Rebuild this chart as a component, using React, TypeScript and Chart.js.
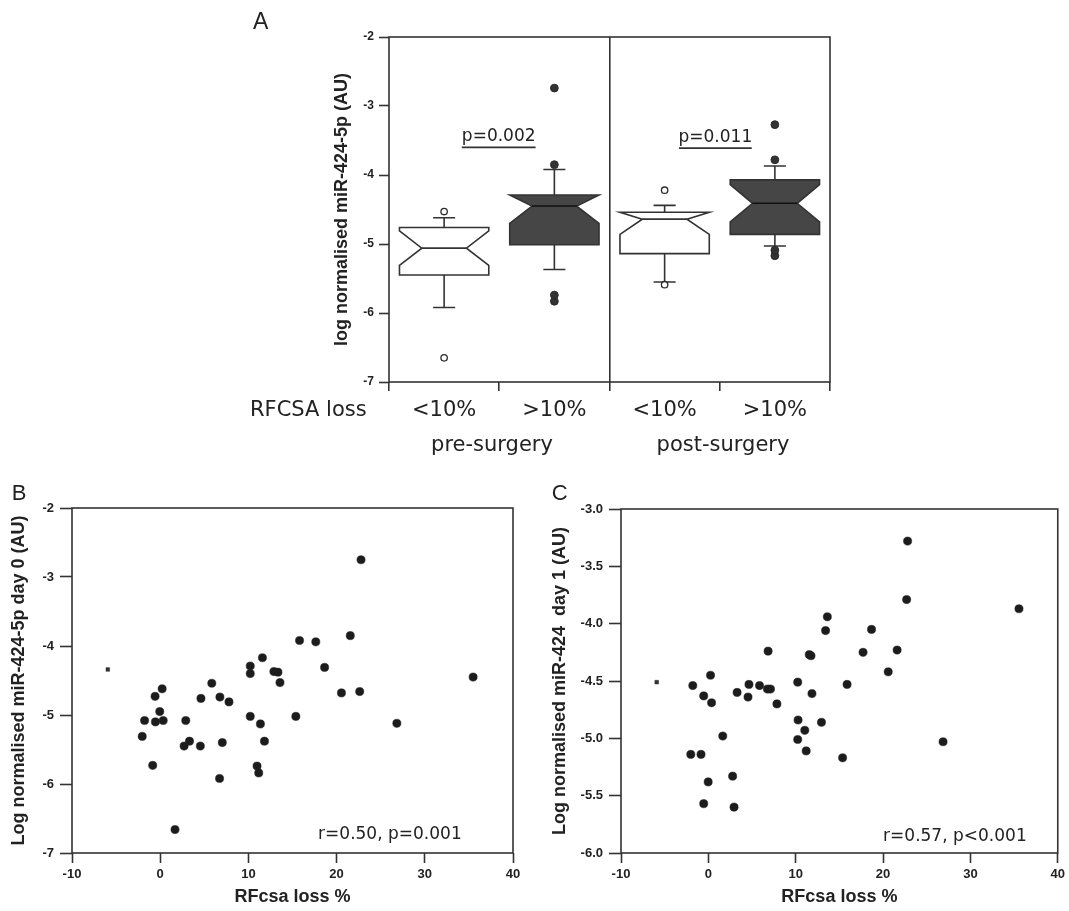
import React, { useEffect, useRef } from 'react';
import { Chart, registerables } from 'chart.js';

Chart.register(...registerables);

// ---------- Panel A data ----------
const groupLabels = ['<10%', '>10%', '<10%', '>10%'];
const boxQ1 = [-5.45, -5.01, -5.14, -4.86];
const boxQ3 = [-4.76, -4.29, -4.54, -4.07];
const boxMedian = [-5.06, -4.45, -4.64, -4.41];
const notchLow = [-5.31, -4.70, -4.86, -4.68];
const notchHigh = [-4.81, -4.20, -4.42, -4.14];
const whiskerLow = [-5.92, -5.37, -5.55, -5.03];
const whiskerHigh = [-4.62, -3.92, -4.44, -3.87];
const outliersPreLow = [-4.53, -6.65];
const outliersPreHigh = [-2.74, -3.85, -5.74, -5.83];
const outliersPostLow = [-4.22, -5.59];
const outliersPostHigh = [-3.27, -3.78, -5.09, -5.17];
const pValueLabels = ['p=0.002', 'p=0.011'];
const pLineY = [-3.6, -3.61];
const pLineFrom = [0.16, 2.13];
const pLineTo = [0.83, 2.79];

// ---------- Panel B data ----------
const rfB = [22.77, 21.55, 15.8, 17.64, 11.59, 10.21, 18.64, 12.89, 13.35, 10.21, 35.48, 13.58, 5.85, 0.22, 22.62, 20.55, -0.58, 6.77, 4.62, 7.8, -0.05, 10.21, 15.38, -1.77, 0.34, 2.9, -0.54, 26.83, 11.36, -2.04, 11.82, 3.32, 7.04, 2.71, 4.55, -0.85, 10.98, 11.17, 6.73, 1.68];
const mirB = [-2.75, -3.85, -3.92, -3.94, -4.17, -4.29, -4.31, -4.37, -4.38, -4.4, -4.45, -4.53, -4.54, -4.62, -4.66, -4.68, -4.73, -4.74, -4.76, -4.81, -4.95, -5.02, -5.02, -5.08, -5.08, -5.08, -5.1, -5.12, -5.13, -5.31, -5.38, -5.38, -5.4, -5.45, -5.45, -5.73, -5.74, -5.84, -5.92, -6.66];
const squareB_x = [-5.94];
const squareB_y = [-4.34];

// ---------- Panel C data ----------
const rfC = [22.81, 22.7, 35.56, 13.62, 13.42, 18.68, 6.84, 17.71, 21.61, 11.55, 11.75, 20.59, 0.25, -1.78, 4.65, 5.86, 10.23, 15.88, 3.29, 6.76, 7.11, -0.53, 4.54, 11.86, 0.37, 7.85, 10.27, 12.95, 11.04, 1.65, 10.23, 26.87, 11.2, -2.01, -0.84, 15.37, 2.78, -0.02, -0.53, 2.94];
const mirC = [-3.28, -3.79, -3.87, -3.94, -4.06, -4.05, -4.24, -4.25, -4.23, -4.27, -4.28, -4.42, -4.45, -4.54, -4.53, -4.54, -4.51, -4.53, -4.6, -4.57, -4.57, -4.63, -4.64, -4.61, -4.69, -4.7, -4.84, -4.86, -4.93, -4.98, -5.01, -5.03, -5.11, -5.14, -5.14, -5.17, -5.33, -5.38, -5.57, -5.6];
const squareC_x = [-5.91];
const squareC_y = [-4.51];

// ---------- styles ----------
const SANS = '"DejaVu Sans", sans-serif';
const ARIAL = '"Liberation Sans", Arial, sans-serif';
const INK = '#222';
const LINE = '#333';
const DARK = '#464646';
const LW = 1.6;

const boxPlugin = {
  id: 'notchedBoxes',
  beforeDatasetsDraw(chart: any) {
    const { ctx } = chart;
    const xs = chart.scales.x;
    const ys = chart.scales.y;
    const step = xs.getPixelForValue(1) - xs.getPixelForValue(0);
    const half = (step * 0.81) / 2;
    const inset = step * 0.81 * 0.25;
    const cap = step * 0.1;
    ctx.save();
    ctx.lineWidth = LW;
    ctx.strokeStyle = LINE;
    for (let i = 0; i < boxQ1.length; i++) {
      const cx = xs.getPixelForValue(i);
      const L = cx - half;
      const R = cx + half;
      const q1 = ys.getPixelForValue(boxQ1[i]);
      const q3 = ys.getPixelForValue(boxQ3[i]);
      const md = ys.getPixelForValue(boxMedian[i]);
      const nLo = Math.min(ys.getPixelForValue(notchLow[i]), q1);
      const nHi = Math.max(ys.getPixelForValue(notchHigh[i]), q3);
      const wLo = ys.getPixelForValue(whiskerLow[i]);
      const wHi = ys.getPixelForValue(whiskerHigh[i]);
      ctx.beginPath();
      ctx.moveTo(cx, q3); ctx.lineTo(cx, wHi);
      ctx.moveTo(cx - cap, wHi); ctx.lineTo(cx + cap, wHi);
      ctx.moveTo(cx, q1); ctx.lineTo(cx, wLo);
      ctx.moveTo(cx - cap, wLo); ctx.lineTo(cx + cap, wLo);
      ctx.stroke();
      ctx.beginPath();
      ctx.moveTo(L, q3); ctx.lineTo(R, q3); ctx.lineTo(R, nHi);
      ctx.lineTo(R - inset, md); ctx.lineTo(R, nLo); ctx.lineTo(R, q1);
      ctx.lineTo(L, q1); ctx.lineTo(L, nLo); ctx.lineTo(L + inset, md);
      ctx.lineTo(L, nHi); ctx.closePath();
      ctx.fillStyle = i % 2 ? DARK : '#ffffff';
      ctx.fill();
      ctx.stroke();
      ctx.beginPath();
      ctx.moveTo(L + inset, md); ctx.lineTo(R - inset, md);
      ctx.strokeStyle = i % 2 ? '#111' : LINE;
      ctx.stroke();
      ctx.strokeStyle = LINE;
    }
    ctx.restore();
  },
};

function frame(chart: any) {
  const { ctx, chartArea: a } = chart;
  ctx.save();
  ctx.strokeStyle = LINE;
  ctx.lineWidth = LW;
  ctx.strokeRect(a.left, a.top, a.right - a.left, a.bottom - a.top);
  ctx.restore();
}

function text(ctx: any, s: string, x: number, y: number, font: string, align: string, baseline: string) {
  ctx.save();
  ctx.font = font;
  ctx.fillStyle = INK;
  ctx.textAlign = align;
  ctx.textBaseline = baseline;
  ctx.fillText(s, x, y);
  ctx.restore();
}

const decorA = {
  id: 'decorA',
  afterDraw(chart: any) {
    const { ctx } = chart;
    frame(chart);
    text(ctx, 'A', 23, 29, `23px ${ARIAL}`, 'left', 'alphabetic');
    text(ctx, 'RFCSA loss', 20, 410.6, `21px ${SANS}`, 'left', 'middle');
    text(ctx, 'pre-surgery', 262, 446, `21px ${SANS}`, 'center', 'middle');
    text(ctx, 'post-surgery', 493, 446, `21px ${SANS}`, 'center', 'middle');
    const xs = chart.scales.x;
    const ys = chart.scales.y;
    ctx.save();
    ctx.strokeStyle = LINE;
    ctx.lineWidth = LW;
    for (let i = 0; i < pValueLabels.length; i++) {
      const y = ys.getPixelForValue(pLineY[i]);
      const x0 = xs.getPixelForValue(pLineFrom[i]);
      const x1 = xs.getPixelForValue(pLineTo[i]);
      ctx.beginPath();
      ctx.moveTo(x0, y); ctx.lineTo(x1, y);
      ctx.stroke();
      text(ctx, pValueLabels[i], (x0 + x1) / 2, y - 6, `17px ${SANS}`, 'center', 'alphabetic');
    }
    ctx.restore();
  },
};

function makeDecor(id: string, letter: string, lx: number, note: string, nx: number, ny: number) {
  return {
    id,
    afterDraw(chart: any) {
      const { ctx } = chart;
      frame(chart);
      text(ctx, letter, lx, 30, `22px ${ARIAL}`, 'left', 'alphabetic');
      text(ctx, note, nx, ny, `17px ${SANS}`, 'right', 'middle');
    },
  };
}

const outlierGroups = [outliersPreLow, outliersPreHigh, outliersPostLow, outliersPostHigh];
const maxOut = Math.max(...outlierGroups.map((g) => g.length));

function configA(): any {
  const datasets = Array.from({ length: maxOut }, (_, k) => ({
    data: outlierGroups.map((g) => (k < g.length ? g[k] : null)),
    pointRadius: (c: any) => (c.dataIndex % 2 ? 3.9 : 3.2),
    pointHoverRadius: (c: any) => (c.dataIndex % 2 ? 3.9 : 3.2),
    pointBackgroundColor: (c: any) => (c.dataIndex % 2 ? '#333' : '#ffffff'),
    pointBorderColor: '#2a2a2a',
    pointBorderWidth: (c: any) => (c.dataIndex % 2 ? 1 : 1.3),
  }));
  return {
    type: 'scatter',
    data: { labels: groupLabels, datasets },
    options: {
      animation: false,
      responsive: false,
      devicePixelRatio: 1,
      layout: { padding: { top: 37, right: 20, bottom: 0, left: 0 } },
      plugins: { legend: { display: false }, tooltip: { enabled: false } },
      scales: {
        x: {
          type: 'category',
          offset: true,
          afterFit: (s: any) => { s.height = 88; },
          border: { display: false },
          grid: {
            offset: true,
            drawOnChartArea: true,
            color: (c: any) => (c.index === 2 ? LINE : 'rgba(0,0,0,0)'),
            lineWidth: LW,
            tickColor: LINE,
            tickWidth: LW,
            tickLength: 9,
          },
          ticks: { font: { family: SANS, size: 21 }, color: INK, padding: 7, autoSkip: false, maxRotation: 0 },
        },
        y: {
          type: 'linear',
          min: -7,
          max: -2,
          afterFit: (s: any) => { s.width = 159; },
          border: { display: false },
          grid: { drawOnChartArea: false, tickLength: 10, tickColor: LINE, tickWidth: LW },
          ticks: { stepSize: 1, font: { family: ARIAL, size: 12, weight: 'bold' }, color: INK, padding: 5 },
          title: {
            display: true,
            text: 'log normalised miR-424-5p (AU)',
            font: { family: ARIAL, size: 18, weight: 'bold' },
            color: INK,
            padding: { top: 101, bottom: 0 },
          },
        },
      },
    },
    plugins: [boxPlugin, decorA],
  };
}

function scatterConfig(opts: {
  xs: number[]; ys: number[]; sqx: number[]; sqy: number[];
  yMin: number; yMax: number; yStep: number; decimals: number;
  yTitle: string; yTitlePad: number; yWidth: number; padTop: number; padRight: number;
  decor: any;
}): any {
  return {
    type: 'scatter',
    data: {
      datasets: [
        {
          data: opts.xs.map((x, i) => ({ x, y: opts.ys[i] })),
          pointRadius: 4.1,
          pointHoverRadius: 4.1,
          pointBackgroundColor: '#1c1c1c',
          pointBorderColor: '#1c1c1c',
          pointBorderWidth: 0.5,
        },
        {
          data: opts.sqx.map((x, i) => ({ x, y: opts.sqy[i] })),
          pointStyle: 'rect',
          pointRadius: 2.6,
          pointHoverRadius: 2.6,
          pointBackgroundColor: '#333',
          pointBorderColor: '#333',
          pointBorderWidth: 0.5,
        },
      ],
    },
    options: {
      animation: false,
      responsive: false,
      devicePixelRatio: 1,
      layout: { padding: { top: opts.padTop, right: opts.padRight, bottom: 0, left: 0 } },
      plugins: { legend: { display: false }, tooltip: { enabled: false } },
      scales: {
        x: {
          type: 'linear',
          min: -10,
          max: 40,
          afterFit: (s: any) => { s.height = 58; },
          border: { display: false },
          grid: { drawOnChartArea: false, tickLength: 10, tickColor: LINE, tickWidth: LW },
          ticks: { stepSize: 10, font: { family: ARIAL, size: 13, weight: 'bold' }, color: INK, padding: 4 },
          title: {
            display: true,
            text: 'RFcsa loss %',
            font: { family: ARIAL, size: 18, weight: 'bold' },
            color: INK,
            padding: { top: 0, bottom: 3 },
          },
        },
        y: {
          type: 'linear',
          min: opts.yMin,
          max: opts.yMax,
          afterFit: (s: any) => { s.width = opts.yWidth; },
          border: { display: false },
          grid: { drawOnChartArea: false, tickLength: 12, tickColor: LINE, tickWidth: LW },
          ticks: {
            stepSize: opts.yStep,
            font: { family: ARIAL, size: 13, weight: 'bold' },
            color: INK,
            padding: 6,
            callback: (v: any) => Number(v).toFixed(opts.decimals),
          },
          title: {
            display: true,
            text: opts.yTitle,
            font: { family: ARIAL, size: 18, weight: 'bold' },
            color: INK,
            padding: { top: opts.yTitlePad, bottom: 0 },
          },
        },
      },
    },
    plugins: [opts.decor],
  };
}

export default function App() {
  const refA = useRef<HTMLCanvasElement>(null);
  const refB = useRef<HTMLCanvasElement>(null);
  const refC = useRef<HTMLCanvasElement>(null);

  useEffect(() => {
    const a = new Chart(refA.current as HTMLCanvasElement, configA());
    const b = new Chart(
      refB.current as HTMLCanvasElement,
      scatterConfig({
        xs: rfB, ys: mirB, sqx: squareB_x, sqy: squareB_y,
        yMin: -7, yMax: -2, yStep: 1, decimals: 0,
        yTitle: 'Log normalised miR-424-5p day 0 (AU)', yTitlePad: 7.8,
        yWidth: 72, padTop: 38, padRight: 17,
        decor: makeDecor('decorB', 'B', 11.7, 'r=0.50, p=0.001', 461.7, 365),
      })
    );
    const c = new Chart(
      refC.current as HTMLCanvasElement,
      scatterConfig({
        xs: rfC, ys: mirC, sqx: squareC_x, sqy: squareC_y,
        yMin: -6, yMax: -3, yStep: 0.5, decimals: 1,
        yTitle: 'Log normalised miR-424  day 1 (AU)', yTitlePad: 19.2,
        yWidth: 91, padTop: 39, padRight: 7,
        decor: makeDecor('decorC', 'C', 21.7, 'r=0.57, p<0.001', 496.7, 366.7),
      })
    );
    return () => {
      a.destroy();
      b.destroy();
      c.destroy();
    };
  }, []);

  return (
    <div style={{ position: 'absolute', left: 0, top: 0, width: 1069, height: 911, background: '#ffffff', overflow: 'hidden' }}>
      <canvas ref={refA} width={620} height={470} style={{ position: 'absolute', left: 230, top: 0 }} />
      <canvas ref={refB} width={530} height={441} style={{ position: 'absolute', left: 0, top: 470 }} />
      <canvas ref={refC} width={539} height={441} style={{ position: 'absolute', left: 530, top: 470 }} />
    </div>
  );
}
